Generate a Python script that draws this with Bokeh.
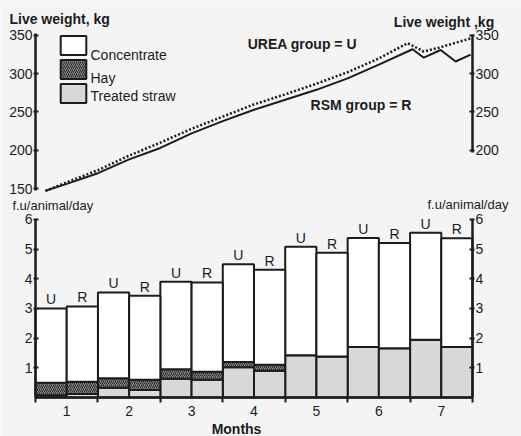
from bokeh.plotting import figure
from bokeh.models import (Range1d, LinearAxis, FixedTicker, ColumnDataSource,
                          Label, Legend, LegendItem)
from bokeh.transform import dodge
from bokeh.embed import file_html
from bokeh.resources import INLINE
from bokeh.core.properties import value

# ---------------- data ----------------
months = [1, 2, 3, 4, 5, 6, 7]
month_labels = ["1", "2", "3", "4", "5", "6", "7"]

# feed units per animal per day (U = urea group, R = RSM group)
urea_total = [3.00, 3.54, 3.90, 4.49, 5.08, 5.38, 5.55]
rsm_total = [3.07, 3.43, 3.88, 4.31, 4.88, 5.21, 5.37]
urea_straw = [0.08, 0.33, 0.63, 1.02, 1.42, 1.70, 1.95]
rsm_straw = [0.12, 0.25, 0.60, 0.90, 1.38, 1.66, 1.70]
urea_hay = [0.42, 0.32, 0.32, 0.18, 0.0, 0.0, 0.0]
rsm_hay = [0.41, 0.35, 0.27, 0.20, 0.0, 0.0, 0.0]

feed_names = ["Concentrate", "Hay", "Treated straw"]

# live weight, kg (time in months)
urea_time = [0.66, 1.0, 1.5, 2.0, 2.5, 3.0, 3.5, 4.0, 4.5, 5.0, 5.5, 6.0, 6.46, 6.72, 6.96, 7.5]
urea_weight = [147, 158, 174, 193, 210, 228, 244, 260, 273, 287, 302, 320, 340, 329, 334, 347]
rsm_time = [0.66, 1.0, 1.5, 2.0, 2.5, 3.0, 3.5, 4.0, 4.5, 5.0, 5.5, 6.0, 6.54, 6.72, 6.99, 7.23, 7.47]
rsm_weight = [147, 156, 170, 188, 203, 222, 238, 253, 266, 279, 294, 312, 332, 321, 331, 316, 325]

weight_ticks_left = [150, 200, 250, 300, 350]
weight_ticks_right = [200, 250, 300, 350]
fu_ticks = [1, 2, 3, 4, 5, 6]

urea_conc = [t - h - s for t, h, s in zip(urea_total, urea_hay, urea_straw)]
rsm_conc = [t - h - s for t, h, s in zip(rsm_total, rsm_hay, rsm_straw)]

# ---------------- style ----------------
FONT = "Liberation Sans"
INK = "#1c1c1c"
BG = "#f4f4f4"
STRAW = "#d8d8d8"
HAY = "#858585"

p = figure(width=521, height=436, x_range=Range1d(-0.0606, 8.2849),
           y_range=Range1d(-1.3146, 13.382), x_axis_location=None,
           y_axis_location=None, output_backend="svg", toolbar_location=None,
           min_border=0, background_fill_color=BG, border_fill_color=BG,
           outline_line_color=None)
p.extra_y_ranges = {"kg": Range1d(-174.18, 395.75)}
p.grid.visible = False


def style_axis(ax, size="14px"):
    ax.axis_line_color = INK
    ax.axis_line_width = 2.5
    ax.major_tick_line_color = INK
    ax.major_tick_line_width = 2
    ax.major_tick_in = 3
    ax.major_tick_out = 2
    ax.minor_tick_line_color = None
    ax.major_label_text_font = FONT
    ax.major_label_text_font_size = size
    ax.major_label_text_color = INK
    ax.major_label_standoff = 1


# weight axes
ax_kl = LinearAxis(y_range_name="kg", fixed_location=months[0] - 0.5, bounds=(147, 352),
                   ticker=FixedTicker(ticks=weight_ticks_left))
ax_kr = LinearAxis(y_range_name="kg", fixed_location=months[-1] + 0.5, bounds=(197, 351),
                   ticker=FixedTicker(ticks=weight_ticks_right))
# feed axes
ax_fl = LinearAxis(fixed_location=months[0] - 0.5, bounds=(0, 6), ticker=FixedTicker(ticks=fu_ticks))
ax_fr = LinearAxis(fixed_location=months[-1] + 0.5, bounds=(0, 6), ticker=FixedTicker(ticks=fu_ticks))
for ax in (ax_kl, ax_kr, ax_fl, ax_fr):
    style_axis(ax)
p.add_layout(ax_kl, "left")
p.add_layout(ax_fl, "left")
p.add_layout(ax_kr, "right")
p.add_layout(ax_fr, "right")

bx = LinearAxis(fixed_location=0, bounds=(months[0] - 0.5, months[-1] + 0.5),
                ticker=FixedTicker(ticks=months,
                                   minor_ticks=[m - 0.5 for m in months] + [months[-1] + 0.5]))
bx.major_label_overrides = {m: s for m, s in zip(months, month_labels)}
bx.axis_line_color = INK
bx.axis_line_width = 2.5
bx.major_tick_line_color = None
bx.major_tick_in = 0
bx.major_tick_out = 0
bx.minor_tick_line_color = INK
bx.minor_tick_line_width = 2
bx.minor_tick_in = 0
bx.minor_tick_out = 5
bx.major_label_text_font = FONT
bx.major_label_text_font_size = "14px"
bx.major_label_text_color = INK
bx.major_label_standoff = 3
p.add_layout(bx, "below")

# ---------------- weight lines ----------------
p.line(urea_time, urea_weight, y_range_name="kg", line_dash="2 2", line_width=2.5, color=INK)
p.line(rsm_time, rsm_weight, y_range_name="kg", line_width=2, color=INK)

# ---------------- feed bars ----------------
src_u = ColumnDataSource(dict(month=months, straw=urea_straw, hay=urea_hay,
                              conc=urea_conc, total=urea_total))
src_r = ColumnDataSource(dict(month=months, straw=rsm_straw, hay=rsm_hay,
                              conc=rsm_conc, total=rsm_total))

stacks = {}
for src, off, letter in [(src_u, -0.25, "U"), (src_r, 0.25, "R")]:
    stacks[letter] = p.vbar_stack(["straw", "hay", "conc"], x=dodge("month", off), width=0.5,
                                  source=src, fill_color=[STRAW, HAY, "white"],
                                  hatch_pattern=[" ", "/", " "], hatch_color="#2a2a2a",
                                  hatch_scale=4, hatch_weight=1, line_color=INK, line_width=2)
    p.text(x=dodge("month", off), y="total", text=value(letter), source=src,
           text_font=value(FONT), text_font_size=value("14px"), text_color=INK,
           text_align="center", text_baseline="bottom", y_offset=-1)

# legend key: swatches from the bar renderers, captions set just below each swatch centre
straw_r, hay_r, conc_r = stacks["U"]
legend = Legend(items=[LegendItem(label=" ", renderers=[conc_r]),
                       LegendItem(label=" ", renderers=[hay_r]),
                       LegendItem(label=" ", renderers=[straw_r])],
                location=(57, 331), glyph_width=32, glyph_height=24, spacing=0,
                padding=0, margin=0, border_line_color=None, background_fill_alpha=0,
                label_text_font_size="1px", label_standoff=0, label_width=0)
p.add_layout(legend)

cap = dict(text_font=FONT, text_font_size="14px", text_color=INK,
           text_baseline="middle", text_align="left", x=1.381, y_range_name="kg")
for name, ky in zip(feed_names, [323.9, 293.8, 270.3]):
    p.add_layout(Label(y=ky, text=name, **cap))

# ---------------- texts ----------------
lbl = dict(text_font=FONT, text_font_size="14px", text_color=INK,
           text_baseline="middle", text_align="left", text_font_style="bold")
p.add_layout(Label(x=0.083, y=372, y_range_name="kg", text="Live weight, kg", **lbl))
p.add_layout(Label(x=6.24, y=367, y_range_name="kg", text="Live weight ,kg", **lbl))
p.add_layout(Label(x=3.9, y=339.5, y_range_name="kg", text="UREA group = U", **lbl))
p.add_layout(Label(x=4.907, y=258.5, y_range_name="kg", text="RSM group = R", **lbl))

flbl = dict(text_font=FONT, text_font_size="13px", text_color=INK,
            text_baseline="middle", text_align="left")
p.add_layout(Label(x=0.13, y=6.47, text="f.u/animal/day", **flbl))
p.add_layout(Label(x=6.779, y=6.505, text="f.u/animal/day", **flbl))
p.add_layout(Label(x=3.72, y=-1.045, text="Months", text_font=FONT, text_font_size="14px",
                   text_color=INK, text_baseline="middle", text_align="center",
                   text_font_style="bold"))

open("out.html", "w").write(file_html(p, INLINE))
